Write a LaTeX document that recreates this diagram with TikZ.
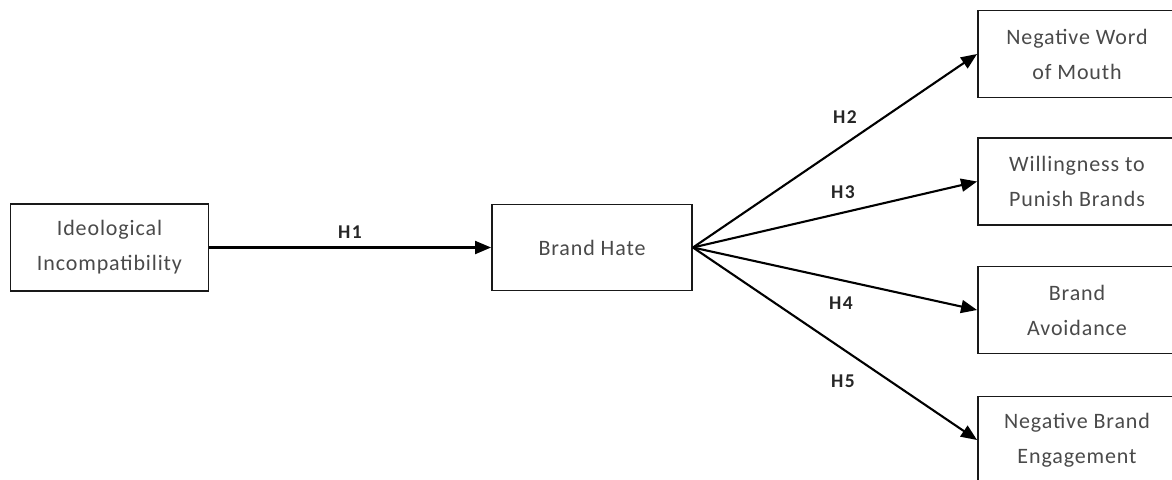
\documentclass[tikz,border=0pt]{standalone}
\usepackage{fontspec}
\setmainfont{Carlito}
\newfontfamily\boxfont[LetterSpace=4]{Carlito}
\newfontfamily\hypfont[LetterSpace=8]{Carlito}
\usetikzlibrary{arrows.meta}
\definecolor{boxtext}{HTML}{4A4A4A}
\definecolor{hyptext}{HTML}{262626}
\tikzset{
  construct/.style={draw=black!90, line width=1.9pt, fill=white, inner sep=0pt,
    minimum width=198pt, minimum height=87pt, align=center, text=boxtext,
    font=\boxfont\fontsize{22pt}{35pt}\selectfont},
  path/.style={draw=black, line width=2.1pt, -{Triangle[length=16pt,width=13pt]}},
  hyp/.style={inner sep=0pt, text=hyptext, font=\hypfont\bfseries\fontsize{19.5pt}{22pt}\selectfont}
}
\begin{document}
\begin{tikzpicture}[x=1pt,y=-1pt]
  \path[use as bounding box, clip] (0,0) rectangle (1172,479);
  \fill[white] (0,0) rectangle (1172,479);

  % constructs
  \node[construct] (ii)   at (109.5,247.5) {Ideological\\Incompatibility};
  \node[construct, minimum width=200pt, minimum height=86pt] (hate) at (592,247.5) {Brand Hate};
  \node[construct] (nwom) at (1077,54)    {Negative Word\\of Mouth};
  \node[construct] (wpb)  at (1077,181.5) {Willingness to\\Punish Brands};
  \node[construct] (ba)   at (1077,310)   {Brand\\Avoidance};
  \node[construct] (nbe)  at (1077,440)   {Negative Brand\\Engagement};

  % hypothesised paths
  \draw[path] (ii.east)   -- (hate.west);
  \draw[path] (hate.east) -- (nwom.west);
  \draw[path] (hate.east) -- (wpb.west);
  \draw[path] (hate.east) -- (ba.west);
  \draw[path] (hate.east) -- (nbe.west);

  % path labels
  \node[hyp] (h1) at (350,232) {H1};
  \node[hyp] (h2) at (845,117) {H2};
  \node[hyp] (h3) at (843,192) {H3};
  \node[hyp] (h4) at (841,303) {H4};
  \node[hyp] (h5) at (843,381) {H5};
\end{tikzpicture}
\end{document}
